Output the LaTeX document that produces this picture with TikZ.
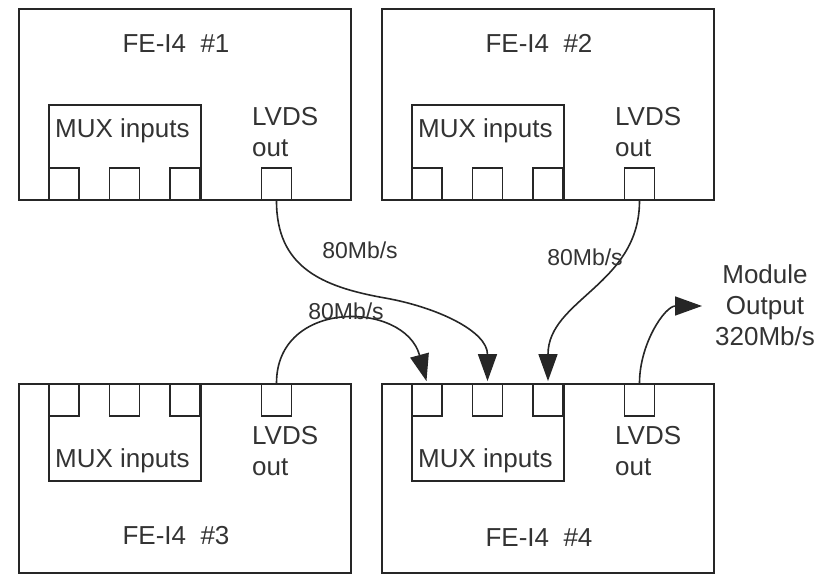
\documentclass[tikz,border=0pt]{standalone}
\usepackage{fontspec}
\setmainfont{Liberation Sans}
\usetikzlibrary{arrows.meta}
\begin{document}
\begin{tikzpicture}[x=1pt,y=-1pt,
  chip/.style={draw=black!85,line width=1.8pt,minimum width=332pt,minimum height=191pt,inner sep=0pt},
  chipb/.style={chip,minimum height=189pt},
  mux/.style={draw=black!85,line width=1.8pt,minimum width=152pt,inner sep=0pt},
  pad/.style={draw=black!85,line width=1.8pt,minimum width=30pt,minimum height=32pt,inner sep=0pt},
  big/.style={font=\fontsize{26}{31}\selectfont,text=black!80,inner sep=0pt},
  lab/.style={font=\fontsize{23}{28}\selectfont,text=black!80,inner sep=0pt},
  link/.style={line width=1.6pt,draw=black!85,shorten >=2pt,-{Triangle[length=27pt,width=19pt]}}]
\useasboundingbox (0,0) rectangle (828,575);
% chips
\node[chip] (c1) at (185,104.5) {};
\node[chip] (c2) at (548,104.5) {};
\node[chipb] (c3) at (185,478.5) {};
\node[chipb] (c4) at (548,478.5) {};
% mux boxes
\node[mux,minimum height=95pt] (m1) at (125,152.5) {};
\node[mux,minimum height=95pt] (m2) at (488,152.5) {};
\node[mux,minimum height=97pt] (m3) at (125,432.5) {};
\node[mux,minimum height=97pt] (m4) at (488,432.5) {};
% pads
\node[pad] (p1a) at (64,184) {};
\node[pad] (p1b) at (124.5,184) {};
\node[pad] (p1c) at (185,184) {};
\node[pad] (p1o) at (276.5,184) {};
\node[pad] (p2a) at (427,184) {};
\node[pad] (p2b) at (487.5,184) {};
\node[pad] (p2c) at (548,184) {};
\node[pad] (p2o) at (639.5,184) {};
\node[pad] (p3a) at (64,400) {};
\node[pad] (p3b) at (124.5,400) {};
\node[pad] (p3c) at (185,400) {};
\node[pad] (p3o) at (276.5,400) {};
\node[pad] (p4a) at (427,400) {};
\node[pad] (p4b) at (487.5,400) {};
\node[pad] (p4c) at (548,400) {};
\node[pad] (p4o) at (639.5,400) {};
% texts
\node[big,anchor=base] (t1) at (176,53) {FE-I4\ \ \#1};
\node[big,anchor=base] (t2) at (539,53) {FE-I4\ \ \#2};
\node[big,anchor=base] (t3) at (176,544) {FE-I4\ \ \#3};
\node[big,anchor=base] (t4) at (539,546) {FE-I4\ \ \#4};
\node[big,anchor=base west] (mt1) at (55,138) {MUX inputs};
\node[big,anchor=base west] (mt2) at (418,138) {MUX inputs};
\node[big,anchor=base west] (mt3) at (55,467) {MUX inputs};
\node[big,anchor=base west] (mt4) at (418,467) {MUX inputs};
\node[big,anchor=base west,align=left] (l1) at (252,157) {LVDS\\out};
\node[big,anchor=base west,align=left] (l2) at (615,157) {LVDS\\out};
\node[big,anchor=base west,align=left] (l3) at (252,475) {LVDS\\out};
\node[big,anchor=base west,align=left] (l4) at (615,475) {LVDS\\out};
\node[big,align=center] (mo) at (765,305) {Module\\Output\\320Mb/s};
\coordinate (outp) at (704,306);
\coordinate (mid1) at (385,298);
% links
\draw[link] (p1o.south) to[out=-90,in=170,looseness=1.15] (mid1) to[out=-10,in=90] (p4b.north);
\draw[link] (p2o.south) to[out=-90,in=90,looseness=1.05] (p4c.north);
\draw[link] (p3o.north) to[out=90,in=105,looseness=1.45] (p4a.north);
\draw[link] (p4o.north) to[out=90,in=180] (outp);
% labels
\node[lab] (r1) at (360,250) {80Mb/s};
\node[lab] (r2) at (585,257) {80Mb/s};
\node[lab] (r3) at (346,311) {80Mb/s};
\end{tikzpicture}
\end{document}
